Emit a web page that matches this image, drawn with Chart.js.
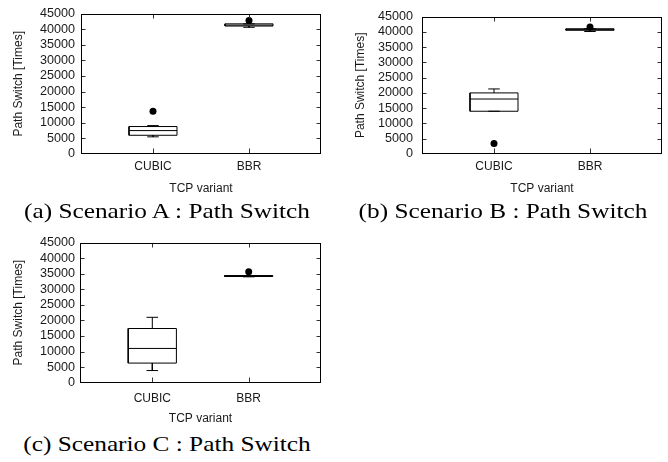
<!DOCTYPE html>
<html><head><meta charset="utf-8">
<script src="https://cdn.jsdelivr.net/npm/chart.js@4"></script>
<style>
html,body{margin:0;padding:0;background:#fff;width:668px;height:462px;overflow:hidden;position:relative}
.panel{position:absolute}
.cap{position:absolute;width:320px;text-align:center;font-family:"Liberation Serif","Times New Roman",serif;font-size:22px;line-height:22px;color:#000;white-space:nowrap;transform:scaleX(1.15);transform-origin:50% 50%}
</style></head><body>
<div class="panel" style="left:0;top:0"><canvas id="cA" width="334" height="200"></canvas></div>
<div class="panel" style="left:341px;top:0"><canvas id="cB" width="327" height="200"></canvas></div>
<div class="panel" style="left:0;top:230px"><canvas id="cC" width="334" height="200"></canvas></div>
<div class="cap" id="capA" style="left:7px;top:200px"></div>
<div class="cap" id="capB" style="left:343px;top:200px"></div>
<div class="cap" id="capC" style="left:7px;top:433px"></div>
<script>
// ---- data ----
const categories = ['CUBIC', 'BBR'];
const categoryPos = [1, 2];
const yTickValues = [0, 5000, 10000, 15000, 20000, 25000, 30000, 35000, 40000, 45000];
const xTitle = 'TCP variant';
const yTitle = 'Path Switch [Times]';
const captions = ['(a) Scenario A : Path Switch', '(b) Scenario B : Path Switch', '(c) Scenario C : Path Switch'];

// Scenario A
const aMin = [5500, 40600];
const aQ1  = [6000, 41000];
const aMed = [7500, 41300];
const aQ3  = [8800, 41700];
const aMax = [9100, 41700];
const aOut = [13700, 42800];
// Scenario B
const bMin = [14000, 40100];
const bQ1  = [14000, 40500];
const bMed = [18000, 40800];
const bQ3  = [20000, 41000];
const bMax = [21300, 41000];
const bOut = [3400, 41600];
// Scenario C
const cMin = [3900, 34000];
const cQ1  = [6300, 34100];
const cMed = [11000, 34300];
const cQ3  = [17400, 34400];
const cMax = [21000, 34400];
const cOut = [null, 35600];

document.getElementById('capA').textContent = captions[0];
document.getElementById('capB').textContent = captions[1];
document.getElementById('capC').textContent = captions[2];

const HW = 0.25;   // box half width (x units)
const CW = 0.06;   // whisker cap half width
const FONT = {family: '"Liberation Sans", Arial, sans-serif', size: 12};
const TICKFONT = {family: '"Liberation Sans", Arial, sans-serif', size: 12.6};
const TXT = '#1a1a1a';

const framePlugin = {
  id: 'frame',
  afterDatasetsDraw(chart) {
    const {ctx, chartArea, scales: {x, y}} = chart;
    const L = Math.round(chartArea.left) + 0.5, R = Math.round(chartArea.right) - 0.5;
    const T = Math.round(chartArea.top) + 0.5, B = Math.round(chartArea.bottom) - 0.5;
    ctx.save();
    ctx.strokeStyle = '#333';
    ctx.lineWidth = 1;
    ctx.beginPath();
    y.ticks.forEach(t => {
      if (t.value === y.min || t.value === y.max) return;
      const py = Math.round(y.getPixelForValue(t.value)) + 0.5;
      ctx.moveTo(L, py); ctx.lineTo(L + 4, py);
      ctx.moveTo(R, py); ctx.lineTo(R - 4, py);
    });
    x.ticks.forEach(t => {
      const px = Math.round(x.getPixelForValue(t.value)) + 0.5;
      ctx.moveTo(px, B); ctx.lineTo(px, B - 5);
      ctx.moveTo(px, T); ctx.lineTo(px, T + 4);
    });
    ctx.stroke();
    ctx.strokeStyle = '#000';
    ctx.strokeRect(L, T, R - L, B - T);
    ctx.restore();
  }
};

function makePanel(id, mins, q1, med, q3, maxs, outs, g) {
  const boxPts = [], medPts = [], whPts = [], outPts = [];
  categoryPos.forEach((x, i) => {
    boxPts.push({x: x - HW, y: q1[i]}, {x: x + HW, y: q1[i]}, {x: x + HW, y: q3[i]},
                {x: x - HW, y: q3[i]}, {x: x - HW, y: q1[i]}, {x: x, y: null});
    medPts.push({x: x - HW, y: med[i]}, {x: x + HW, y: med[i]}, {x: x, y: null});
    whPts.push({x: x, y: q3[i]}, {x: x, y: maxs[i]}, {x: x, y: null},
               {x: x - CW, y: maxs[i]}, {x: x + CW, y: maxs[i]}, {x: x, y: null},
               {x: x, y: q1[i]}, {x: x, y: mins[i]}, {x: x, y: null},
               {x: x - CW, y: mins[i]}, {x: x + CW, y: mins[i]}, {x: x, y: null});
    if (outs[i] !== null) outPts.push({x: x, y: outs[i]});
  });
  const lineDs = (data) => ({data, showLine: true, pointRadius: 0, borderColor: '#000',
    borderWidth: 1, fill: false, tension: 0, spanGaps: false, borderCapStyle: 'butt'});
  new Chart(document.getElementById(id), {
    type: 'scatter',
    data: {datasets: [
      lineDs(whPts), lineDs(boxPts), lineDs(medPts),
      {data: outPts, pointRadius: 3.5, backgroundColor: '#000', borderWidth: 0, showLine: false}
    ]},
    options: {
      responsive: false, animation: false, devicePixelRatio: 1,
      layout: {padding: {left: 0, top: g.top, right: g.w - g.right, bottom: 0}},
      plugins: {legend: {display: false}, tooltip: {enabled: false}},
      scales: {
        x: {
          type: 'linear', min: 0.25, max: 2.75,
          afterBuildTicks: s => { s.ticks = categoryPos.map(v => ({value: v})); },
          ticks: {callback: (v, i) => categories[i], padding: g.xpad, font: FONT, color: TXT, maxRotation: 0, autoSkip: false},
          grid: {display: false, drawTicks: false}, border: {display: false},
          title: {display: true, text: xTitle, font: FONT, color: TXT, padding: {top: 0, bottom: g.xtb}},
          afterFit: s => { s.height = g.h - g.bottom; }
        },
        y: {
          type: 'linear', min: 0, max: 45000,
          afterBuildTicks: s => { s.ticks = yTickValues.map(v => ({value: v})); },
          ticks: {callback: v => String(v), padding: g.ypad, font: TICKFONT, color: TXT, autoSkip: false},
          grid: {display: false, drawTicks: false}, border: {display: false},
          title: {display: true, text: yTitle, font: FONT, color: TXT, padding: {top: g.ytp, bottom: 0}},
          afterFit: s => { s.width = g.left; }
        }
      }
    },
    plugins: [framePlugin]
  });
}

makePanel('cA', aMin, aQ1, aMed, aQ3, aMax, aOut, {w: 334, h: 200, left: 81, right: 321, top: 12, bottom: 154, xpad: 5.8, xtb: 4.5, ypad: 6, ytp: 11.3});
makePanel('cB', bMin, bQ1, bMed, bQ3, bMax, bOut, {w: 327, h: 200, left: 81, right: 321, top: 12, bottom: 154, xpad: 5.8, xtb: 4.5, ypad: 9, ytp: 12.8});
makePanel('cC', cMin, cQ1, cMed, cQ3, cMax, cOut, {w: 334, h: 200, left: 80, right: 321, top: 11.7, bottom: 152.7, xpad: 8.6, xtb: 4.3, ypad: 5, ytp: 11.3});
</script>
</body></html>
